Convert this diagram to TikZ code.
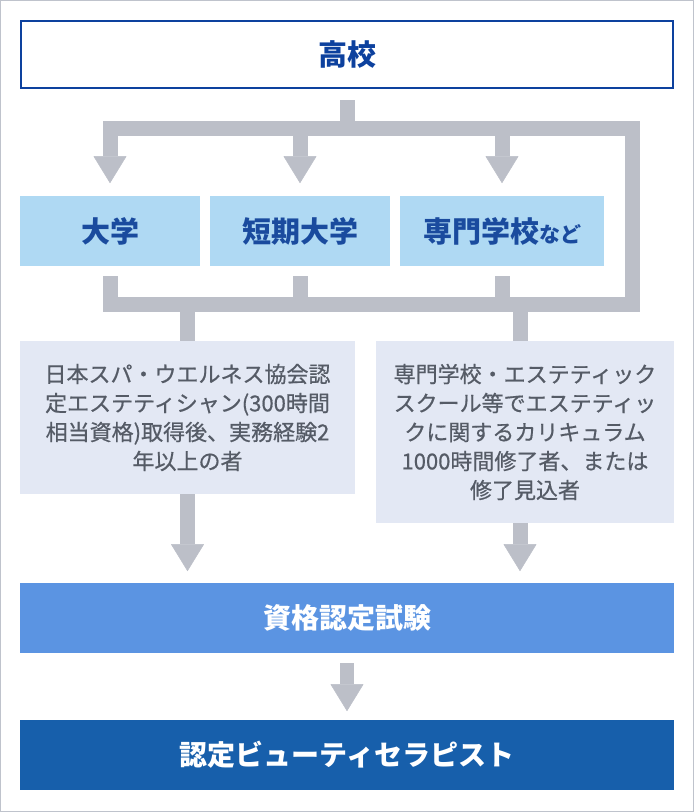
\documentclass[tikz,border=0pt]{standalone}
\usepackage{fontspec}
\setmainfont{Noto Sans CJK JP}
\newfontfamily\medfont[FakeBold=0.6]{Noto Sans CJK JP}
\usetikzlibrary{arrows.meta}
\definecolor{cframe}{HTML}{BFC3CC}
\definecolor{navy}{HTML}{0D419E}
\definecolor{cgray}{HTML}{BCBFC8}
\definecolor{lblue}{HTML}{AFD9F3}
\definecolor{bluetext}{HTML}{1A4B9E}
\definecolor{graybox}{HTML}{E3E8F4}
\definecolor{graytext}{HTML}{555B66}
\definecolor{midblue}{HTML}{5B94E2}
\definecolor{darkblue}{HTML}{175FAB}
\begin{document}
\begin{tikzpicture}[x=1pt,y=-1pt,
  conn/.style={draw=cgray, line width=15pt},
  connarrow/.style={conn, -{Triangle[width=33pt,length=27pt,line width=0.5pt,round]}},
  school/.style={fill=lblue, inner sep=0pt, outer sep=0pt, minimum height=70pt,
    text=bluetext, font=\bfseries\fontsize{29}{34}\selectfont},
  cond/.style={fill=graybox, inner sep=0pt, outer sep=0pt, align=center,
    text=graytext, font=\medfont\fontsize{22}{29}\selectfont},
  wide/.style={inner sep=0pt, outer sep=0pt, minimum width=654pt, minimum height=70pt,
    text=white, font=\bfseries\fontsize{28}{33}\selectfont}]
\useasboundingbox (0,0) rectangle (694,812);
\draw[cframe, line width=1pt] (0.5,0.5) rectangle (693.5,811.5);

\node[draw=navy, line width=2pt, minimum width=652pt, minimum height=67pt, inner sep=0pt,
  text=navy, font=\bfseries\fontsize{29}{34}\selectfont] (koko) at (347,54.5) {高校};

\node[school, minimum width=180pt] (daigaku) at (110,231) {大学};
\node[school, minimum width=180pt] (tanki) at (300,231) {短期大学};
\node[school, minimum width=204pt] (senmon) at (502,231) {専門学校{\fontsize{21}{26}\selectfont など}};

\node[cond, minimum width=335pt, minimum height=153pt] (leftbox) at (187.5,417.5)
  {日本スパ・ウエルネス協会認\\定エステティシャン(300時間\\相当資格)取得後、実務経験2\\年以上の者};
\node[cond, minimum width=298pt, minimum height=182pt] (rightbox) at (525,432)
  {専門学校・エステティック\\スクール等でエステティッ\\クに関するカリキュラム\\1000時間修了者、または\\修了見込者};

\node[wide, fill=midblue] (shikaku) at (347,618) {資格認定試験};
\node[wide, fill=darkblue] (final) at (347,755) {認定ビューティセラピスト};

\coordinate (jt) at (347,128);
\coordinate (jb) at (347,304);
\coordinate (rc) at (632,0);
\coordinate (rs) at (520,0);

\draw[conn] ([yshift=-11pt]koko.south) -- (koko.south |- jt);
\draw[conn, line cap=rect] (daigaku.north |- jt) -- (rc |- jt) -- (rc |- jb) -- (daigaku.south |- jb);

\draw[connarrow, shorten >=13pt] (daigaku.north |- jt) -- (daigaku.north);
\draw[connarrow, shorten >=13pt] (tanki.north |- jt) -- (tanki.north);
\draw[connarrow, shorten >=13pt] (senmon.north |- jt) -- (senmon.north);

\draw[conn] ([yshift=-10pt]daigaku.south) -- (daigaku.south |- jb);
\draw[conn] ([yshift=-10pt]tanki.south) -- (tanki.south |- jb);
\draw[conn] ([yshift=-10pt]senmon.south) -- (senmon.south |- jb);

\draw[conn] (leftbox.north |- jb) -- (leftbox.north);
\draw[conn] (rs |- jb) -- (rs |- rightbox.north);

\draw[connarrow, shorten >=12pt] (leftbox.south) -- (leftbox.south |- shikaku.north);
\draw[connarrow, shorten >=12pt] (rs |- rightbox.south) -- (rs |- shikaku.north);

\draw[connarrow, line width=14pt, shorten >=9pt] ([yshift=-10pt]shikaku.south) -- (final.north);
\end{tikzpicture}
\end{document}
